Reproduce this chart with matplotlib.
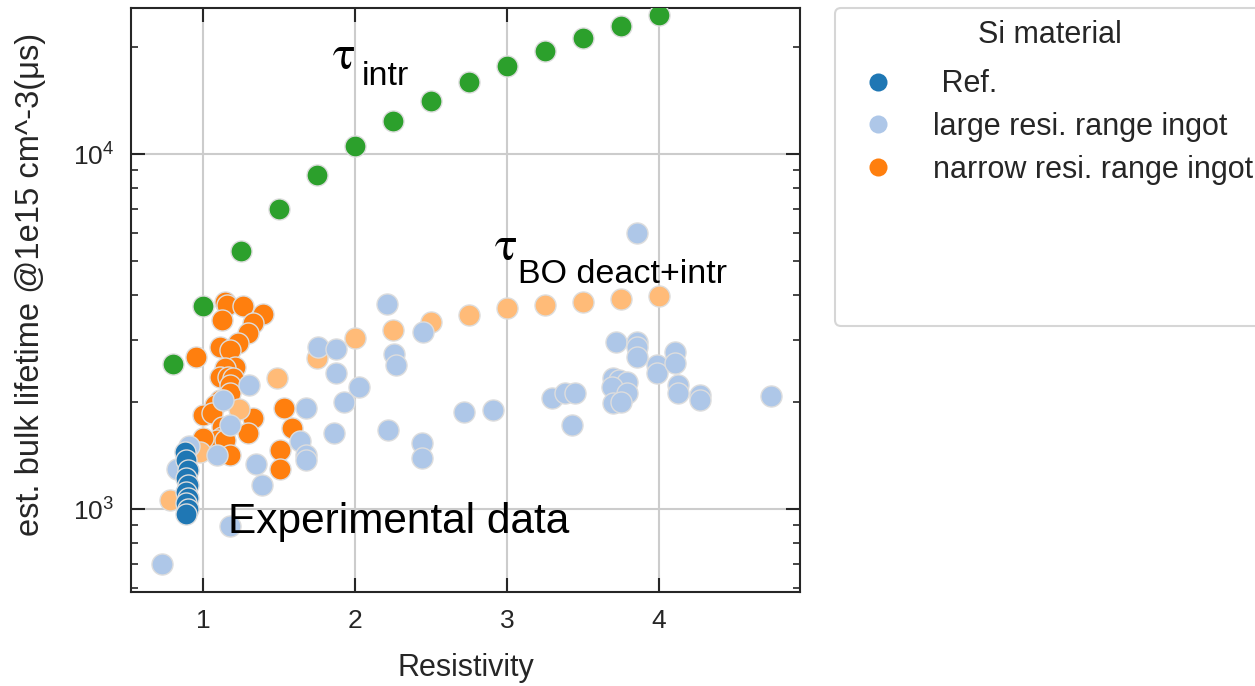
import matplotlib
matplotlib.use('Agg')
import matplotlib.pyplot as plt
from matplotlib.lines import Line2D

# ---------------- data ----------------
ref_x = [0.88, 0.89, 0.90, 0.89, 0.90, 0.89, 0.90, 0.89, 0.90, 0.89]
ref_y = [1447, 1374, 1288, 1223, 1168, 1117, 1074, 1040, 1000, 968]

large_x = [0.73, 1.18, 1.39, 1.35, 1.09, 0.91, 0.83, 1.18, 1.13, 1.30,
           1.64, 1.68, 1.68, 1.68, 1.76, 1.875, 1.875, 2.03, 1.93, 1.86,
           2.22, 2.44, 2.44, 2.72, 2.91, 2.21, 2.45, 2.26, 2.27,
           3.86, 3.72, 3.86, 3.86, 3.86, 3.99, 3.99, 4.11, 4.11, 4.13,
           4.13, 4.27, 4.27, 4.74, 3.30, 3.38, 3.45, 3.43, 3.70, 3.74,
           3.79, 3.69, 3.79, 3.70, 3.75]
large_y = [700, 896, 1168, 1339, 1419, 1505, 1296, 1724, 2028, 2235,
           1554, 1419, 1374, 1925, 2859, 2823, 2416, 2206, 2001, 1642,
           1669, 1534, 1392, 1875, 1900, 3781, 3152, 2733, 2544,
           5990, 2953, 2953, 2859, 2680, 2544, 2416, 2768, 2578, 2235,
           2122, 2095, 2028, 2081, 2055, 2122, 2122, 1724, 2339, 2309,
           2279, 2206, 2122, 1988, 2001]

narrow_x = [1.145, 1.158, 1.263, 1.125, 1.395, 1.329, 1.296, 1.230, 1.112, 1.178,
            0.954, 1.211, 1.145, 1.112, 1.164, 1.197, 1.178, 1.178, 1.112, 1.079,
            1.000, 1.059, 1.125, 1.329, 1.296, 1.125, 1.092, 1.145, 1.000, 1.178,
            1.533, 1.586, 1.507, 1.507]
narrow_y = [3830, 3755, 3731, 3407, 3543, 3341, 3131, 2934, 2859, 2804,
            2680, 2512, 2496, 2354, 2354, 2339, 2235, 2122, 2028, 1963,
            1839, 1863, 1702, 1804, 1642, 1595, 1564, 1564, 1585, 1419,
            1925, 1691, 1466, 1296]

bo_x = [0.78, 0.98, 1.24, 1.49, 1.75, 2.0, 2.25, 2.5, 2.75, 3.0, 3.25, 3.5, 3.75, 4.0]
bo_y = [1060, 1447, 1912, 2339, 2663, 3031, 3193, 3364, 3520, 3683, 3755, 3830, 3905, 3981]

intr_x = [0.8, 1.0, 1.25, 1.5, 1.75, 2.0, 2.25, 2.5, 2.75, 3.0, 3.25, 3.5, 3.75, 4.0]
intr_y = [2560, 3730, 5330, 7000, 8730, 10530, 12390, 14100, 15950, 17700,
          19500, 21200, 22940, 24660]

legend_title = 'Si material'
legend_labels = [' Ref.', 'large resi. range ingot', 'narrow resi. range ingot']

# ---------------- style ----------------
plt.rcParams['font.family'] = ['Liberation Sans', 'DejaVu Sans']
plt.rcParams['mathtext.fontset'] = 'custom'
plt.rcParams['mathtext.rm'] = 'Liberation Sans'
plt.rcParams['mathtext.it'] = 'Liberation Sans:italic'
plt.rcParams['mathtext.bf'] = 'Liberation Sans:bold'

c_ref = '#1f77b4'
c_large = '#aec7e8'
c_narrow = '#ff7f0e'
c_bo = '#ffbb78'
c_intr = '#2ca02c'
dark = '#262626'

fig = plt.figure(figsize=(12.55, 6.86), dpi=100)
ax = fig.add_axes([131 / 1255, 1 - 592 / 686, 669 / 1255, 584 / 686])

sc = dict(s=230, edgecolors='#dddddd', linewidths=1.0, zorder=3)
ax.scatter(intr_x, intr_y, color=c_intr, **sc)
ax.scatter(narrow_x, narrow_y, color=c_narrow, **sc)
ax.scatter(bo_x, bo_y, color=c_bo, **sc)
ax.scatter(large_x, large_y, color=c_large, **sc)
ax.scatter(ref_x, ref_y, color=c_ref, **sc)

ax.set_yscale('log')
ax.set_xlim(0.526, 4.93)
ax.set_ylim(583.8, 25780)
ax.set_xticks([1, 2, 3, 4])

ax.grid(True, which='major', color='#cccccc', lw=1.5)
ax.set_axisbelow(True)
for sp in ax.spines.values():
    sp.set_color(dark)
    sp.set_linewidth(1.5)

ax.tick_params(which='both', direction='in', top=True, right=True,
               colors=dark, labelsize=19)
ax.tick_params(which='major', length=10, width=1.5, pad=12)
ax.tick_params(which='minor', length=5, width=1.2)
ax.tick_params(axis='x', which='minor', top=False, bottom=False)

ax.set_xlabel('Resistivity', fontsize=22, color=dark)
ax.set_ylabel('est. bulk lifetime @1e15 cm^-3(μs)', fontsize=23.5, color=dark)
ax.xaxis.set_label_coords(0.5, -0.105)
ax.yaxis.set_label_coords(-0.127, 0.526)

# annotations: tau symbol (serif) with sans-serif subscript
tau_font = dict(family=['STIXGeneral', 'DejaVu Serif'], fontsize=34, color='black',
                ha='left', va='baseline')
sub_font = dict(family='Liberation Sans', fontsize=24.5, color='black',
                ha='left', va='baseline')
ax.text(1.855, 17350, 'τ', **tau_font)
ax.text(2.046, 15645, 'intr', **sub_font)
ax.text(2.921, 5028, 'τ', **tau_font)
ax.text(3.072, 4330, 'BO deact+intr', **sub_font)
ax.text(1.164, 856, 'Experimental data', fontsize=30.5, color='black',
        ha='left', va='baseline')

handles = [Line2D([], [], marker='o', ls='', color=c, markersize=13, markeredgewidth=0)
           for c in (c_ref, c_large, c_narrow)]
blank = [Line2D([], [], ls='', marker='') for _ in range(3)]
leg = fig.legend(handles + blank, legend_labels + [''] * 3, title=legend_title,
                 loc='upper left', bbox_to_anchor=(835 / 1255, 1 - 8 / 686),
                 fontsize=22, title_fontsize=22, frameon=True, fancybox=True,
                 edgecolor='#cccccc', borderpad=0.4, handlelength=2,
                 handletextpad=0.8, labelspacing=0.42, borderaxespad=0)
leg._legend_box.sep = 0.42 * 22 + 4.5
leg.get_frame().set_linewidth(1.5)
for t in leg.get_texts():
    t.set_color(dark)
leg.get_title().set_color(dark)

fig.savefig('out.png', dpi=100)
